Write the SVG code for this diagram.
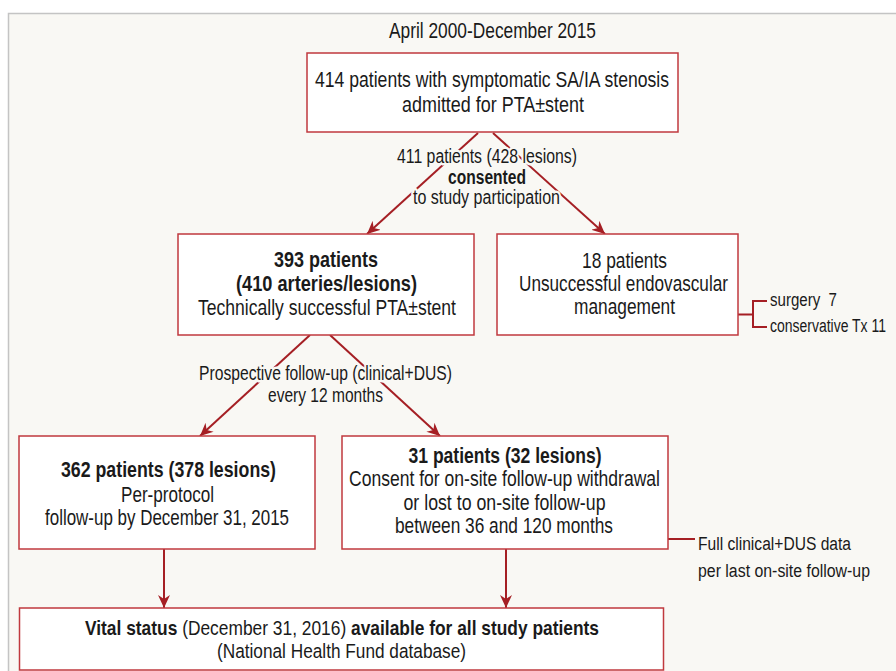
<svg xmlns="http://www.w3.org/2000/svg" width="896" height="671" viewBox="0 0 896 671">
<defs>
<style>
text{font-family:"Liberation Sans Narrow","Liberation Sans",Arial,sans-serif;fill:#1a1a1a}
.t{font-size:22px;text-anchor:middle}
.v{font-size:20.5px}
.b{font-weight:bold}
.l{font-size:20px;text-anchor:middle;stroke:#f9f8f4;stroke-width:5;paint-order:stroke;stroke-linejoin:round}
.s{font-size:18px}
.box{fill:#fff;stroke:#c0393e;stroke-width:1.5}
.c{stroke:#a51f24;stroke-width:2;fill:none}
</style>
<marker id="ah" markerUnits="userSpaceOnUse" markerWidth="14" markerHeight="12" viewBox="0 0 14 12" refX="13" refY="6" orient="auto">
<path d="M0,0 L13,6 L0,12 L4,6 z" fill="#a51f24"/>
</marker>
</defs>
<rect x="0" y="0" width="896" height="671" fill="#fff"/>
<rect x="8.5" y="13.5" width="900" height="700" fill="#f9f8f4" stroke="#c4c4c4" stroke-width="1.5"/>
<text class="t" x="492.5" y="38" textLength="207" lengthAdjust="spacingAndGlyphs">April 2000-December 2015</text>

<g id="connectors">
<line class="c" x1="478" y1="133" x2="367" y2="234" marker-end="url(#ah)"/>
<line class="c" x1="493" y1="133" x2="605" y2="234" marker-end="url(#ah)"/>
<line class="c" x1="310" y1="335" x2="200" y2="436" marker-end="url(#ah)"/>
<line class="c" x1="330" y1="335" x2="440" y2="436" marker-end="url(#ah)"/>
<line class="c" x1="164" y1="549" x2="164" y2="608" marker-end="url(#ah)"/>
<line class="c" x1="506" y1="549" x2="506" y2="608" marker-end="url(#ah)"/>
<path class="c" d="M738,314.5 H753 M753,301 V327 M752,301 H767 M752,327 H767"/>
<path class="c" d="M668,539 H695"/>
</g>

<g id="label-consent">
<text class="l" x="487" y="163" textLength="180" lengthAdjust="spacingAndGlyphs">411 patients (428 lesions)</text>
<text class="l b" x="487" y="184" textLength="78" lengthAdjust="spacingAndGlyphs">consented</text>
<text class="l" x="486.5" y="204" textLength="147" lengthAdjust="spacingAndGlyphs">to study participation</text>
</g>

<g id="label-followup">
<text class="l" x="325.5" y="380" textLength="253" lengthAdjust="spacingAndGlyphs">Prospective follow-up (clinical+DUS)</text>
<text class="l" x="325.5" y="402" textLength="115" lengthAdjust="spacingAndGlyphs">every 12 months</text>
</g>

<g id="node-admitted">
<rect class="box" x="307" y="53" width="371" height="79"/>
<text class="t" x="492" y="87" textLength="354" lengthAdjust="spacingAndGlyphs">414 patients with symptomatic SA/IA stenosis</text>
<text class="t" x="493" y="112" textLength="182" lengthAdjust="spacingAndGlyphs">admitted for PTA±stent</text>
</g>

<g id="node-success">
<rect class="box" x="178" y="234" width="296" height="101"/>
<text class="t b" x="326" y="267" textLength="104" lengthAdjust="spacingAndGlyphs">393 patients</text>
<text class="t b" x="326.5" y="291" textLength="181" lengthAdjust="spacingAndGlyphs">(410 arteries/lesions)</text>
<text class="t" x="327" y="315" textLength="258" lengthAdjust="spacingAndGlyphs">Technically successful PTA±stent</text>
</g>

<g id="node-unsuccessful">
<rect class="box" x="497" y="234" width="241" height="101"/>
<text class="t" x="624.5" y="268" textLength="85" lengthAdjust="spacingAndGlyphs">18 patients</text>
<text class="t" x="623.5" y="291" textLength="209" lengthAdjust="spacingAndGlyphs">Unsuccessful endovascular</text>
<text class="t" x="624.5" y="314" textLength="101" lengthAdjust="spacingAndGlyphs">management</text>
</g>

<g id="note-treatment">
<text class="s" x="770" y="306" textLength="67" lengthAdjust="spacingAndGlyphs">surgery&#160; 7</text>
<text class="s" x="770" y="332" textLength="116" lengthAdjust="spacingAndGlyphs">conservative Tx 11</text>
</g>

<g id="node-perprotocol">
<rect class="box" x="19" y="436" width="296" height="113"/>
<text class="t b" x="168.5" y="477" textLength="215" lengthAdjust="spacingAndGlyphs">362 patients (378 lesions)</text>
<text class="t" x="167.5" y="502" textLength="93" lengthAdjust="spacingAndGlyphs">Per-protocol</text>
<text class="t" x="167" y="525" textLength="244" lengthAdjust="spacingAndGlyphs">follow-up by December 31, 2015</text>
</g>

<g id="node-lost">
<rect class="box" x="342" y="436" width="326" height="113"/>
<text class="t b" x="505" y="463" textLength="193" lengthAdjust="spacingAndGlyphs">31 patients (32 lesions)</text>
<text class="t" x="504.5" y="486" textLength="311" lengthAdjust="spacingAndGlyphs">Consent for on-site follow-up withdrawal</text>
<text class="t" x="504.5" y="510" textLength="202" lengthAdjust="spacingAndGlyphs">or lost to on-site follow-up</text>
<text class="t" x="504" y="533" textLength="218" lengthAdjust="spacingAndGlyphs">between 36 and 120 months</text>
</g>

<g id="note-data">
<text class="s" x="698" y="550" textLength="153" lengthAdjust="spacingAndGlyphs">Full clinical+DUS data</text>
<text class="s" x="698" y="577" textLength="172" lengthAdjust="spacingAndGlyphs">per last on-site follow-up</text>
</g>

<g id="node-vital">
<rect class="box" x="19.5" y="608" width="644" height="62"/>
<text class="v" x="85" y="635" textLength="514" lengthAdjust="spacingAndGlyphs"><tspan class="b">Vital status</tspan> (December 31, 2016) <tspan class="b">available for all study patients</tspan></text>
<text class="v" x="341.5" y="658" text-anchor="middle" textLength="249" lengthAdjust="spacingAndGlyphs">(National Health Fund database)</text>
</g>
</svg>
